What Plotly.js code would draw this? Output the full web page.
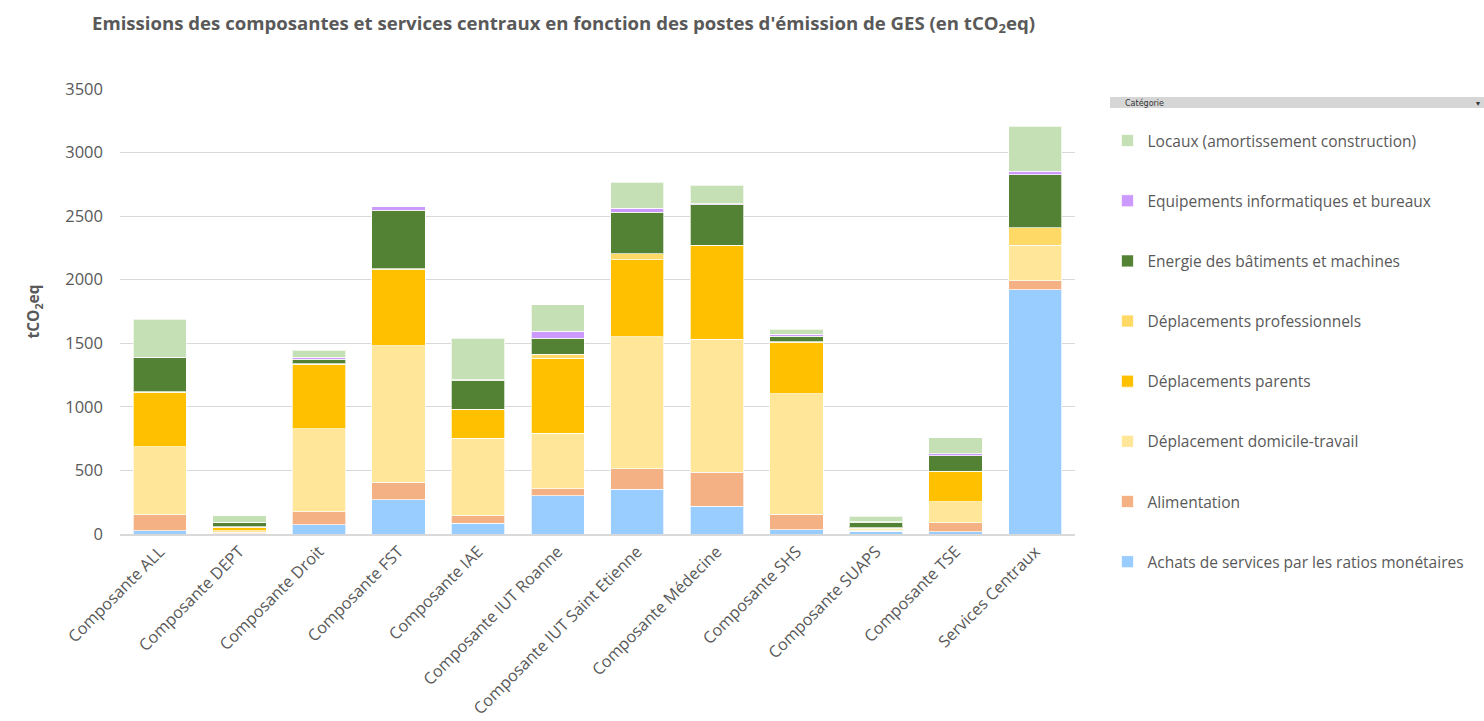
<!DOCTYPE html>
<html>
<head>
<meta charset="utf-8">
<script src="https://cdn.plot.ly/plotly-3.0.1.min.js"></script>
<style>html,body{margin:0;padding:0;background:#fff;}#chart{width:1484px;height:721px;}</style>
</head>
<body>
<div id="chart"></div>
<script>
const categories = ["Composante ALL","Composante DEPT","Composante Droit","Composante FST","Composante IAE","Composante IUT Roanne","Composante IUT Saint Etienne","Composante Médecine","Composante SHS","Composante SUAPS","Composante TSE","Services Centraux"];

const achats    = [24,   3,  71, 269,  83, 301, 353, 217,  34, 22,  18, 1920];
const alim      = [127, 10, 104, 139,  61,  55, 162, 267, 123,  8,  71,   71];
const domicile  = [537, 12, 652,1072, 610, 437,1036,1049, 947,  3, 165,  282];
const parents   = [426, 28, 507, 598, 224, 589, 608, 735, 403, 14, 235,    0];
const prof      = [3,    3,   5,  10,   3,  33,  47,   5,   5,  3,   3,  134];
const energie   = [268, 36,  36, 460, 228, 124, 324, 315,  45, 44, 123,  419];
const equip     = [6,    2,  14,  24,   3,  55,  34,  10,  13,  3,  15,   28];
const locaux    = [299, 50,  58,   0, 329, 208, 204, 144,  39, 42, 129,  353];

const seriesNames = ["Achats de services par les ratios monétaires","Alimentation","Déplacement domicile-travail","Déplacements parents","Déplacements professionnels","Energie des bâtiments et machines","Equipements informatiques et bureaux","Locaux (amortissement construction)"];
const seriesValues = [achats, alim, domicile, parents, prof, energie, equip, locaux];
const seriesColors = ["#99CCFF","#F4B183","#FFE699","#FFC000","#FFD966","#548235","#CC99FF","#C5E0B4"];

const yTicks = [0,500,1000,1500,2000,2500,3000,3500];

const traces = seriesNames.map((n,i)=>({
  type:'bar', name:n, x:categories, y:seriesValues[i],
  marker:{color:seriesColors[i], line:{color:'rgba(255,255,255,0.7)', width:1}},
  legendgroup:'g'+i, legendrank: seriesNames.length - i, hoverinfo:'x+y+name'
}));

const font = "Open Sans, Liberation Sans, sans-serif";
const py = Y => (534 - Y) / 445;
const px = X => (X - 120) / 955;
const layout = {
  width:1484, height:721,
  barmode:'stack', bargap:0.33,
  paper_bgcolor:'#fff', plot_bgcolor:'#fff',
  margin:{l:120, r:409, t:89, b:187},
  font:{family:font, color:'#595959'},
  title:{text:"<b>Emissions des composantes et services centraux en fonction des postes d'émission de GES (en tCO<sub>2</sub>eq)</b>",
         font:{size:18.6, color:'#595959', family:font}, x:92/1484, xanchor:'left', y:0.968, yanchor:'middle'},
  xaxis:{tickangle:-45, tickfont:{size:16.3, color:'#595959'}, showline:true, linecolor:'#D9D9D9', linewidth:1.5, ticks:'', automargin:false},
  yaxis:{range:[0,3500], tickvals:yTicks, ticktext:yTicks.map(String), tickfont:{size:16.5, color:'#595959'},
         gridcolor:'#D9D9D9', gridwidth:1, zeroline:false, ticks:'', ticklen:0, automargin:false, ticklabelstandoff:16,
         title:{text:"<b>tCO<sub>2</sub>eq</b>", font:{size:15.5, color:'#595959'}, standoff:21}},
  legend:{x:1.034, xanchor:'left', y:py(124), yanchor:'top', traceorder:'grouped', tracegroupgap:37, maxheight:700,
          font:{size:15.5, color:'#595959'}, bgcolor:'rgba(0,0,0,0)', itemclick:false},
  shapes:[{type:'rect', xref:'paper', yref:'paper', x0:px(1110), x1:px(1484), y0:py(108), y1:py(97),
           fillcolor:'#D6D6D6', line:{width:0}, layer:'below'}],
  annotations:[
    {xref:'paper', yref:'paper', x:px(1123), y:py(102.5), text:'Catégorie', showarrow:false, xanchor:'left', yanchor:'middle', font:{size:8, color:'#333', family:'DejaVu Sans'}},
    {xref:'paper', yref:'paper', x:px(1478), y:py(102.5), text:'▾', showarrow:false, xanchor:'center', yanchor:'middle', font:{size:8, color:'#333'}}
  ]
};
Plotly.newPlot('chart', traces, layout, {displayModeBar:false});
</script>
</body>
</html>
